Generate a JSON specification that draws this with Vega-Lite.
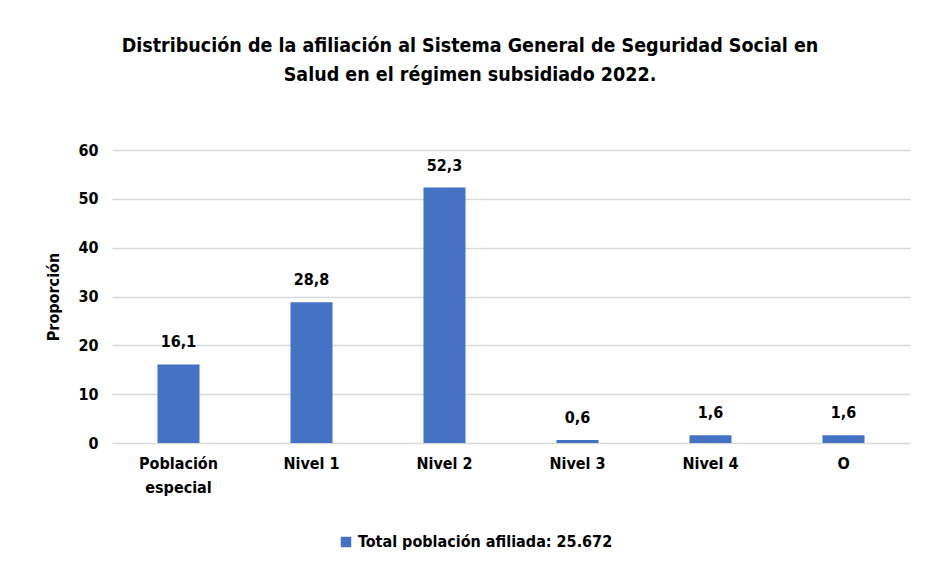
{
  "$schema": "https://vega.github.io/schema/vega-lite/v6.json",
  "autosize": {"type": "none"},
  "width": 798,
  "height": 293,
  "padding": {"left": 112, "top": 150, "right": 15, "bottom": 128},
  "background": "white",
  "config": {
    "font": "DejaVu Sans Condensed",
    "locale": {"number": {"decimal": ",", "thousands": ".", "grouping": [3], "currency": ["$", ""]}},
    "view": {"stroke": null},
    "axis": {"labelFont": "DejaVu Sans Condensed", "titleFont": "DejaVu Sans Condensed"}
  },
  "title": {
    "text": ["Distribución de la afiliación al Sistema General de Seguridad Social en", "Salud en el régimen subsidiado 2022."],
    "font": "DejaVu Sans Condensed",
    "fontSize": 19.5,
    "fontWeight": "bold",
    "color": "#000000",
    "lineHeight": 29,
    "anchor": "middle",
    "dx": -41,
    "offset": 57
  },
  "data": {
    "values": [
      {"categoria": "Población especial", "valor": 16.1, "serie": "Total población afiliada: 25.672"},
      {"categoria": "Nivel 1", "valor": 28.8, "serie": "Total población afiliada: 25.672"},
      {"categoria": "Nivel 2", "valor": 52.3, "serie": "Total población afiliada: 25.672"},
      {"categoria": "Nivel 3", "valor": 0.6, "serie": "Total población afiliada: 25.672"},
      {"categoria": "Nivel 4", "valor": 1.6, "serie": "Total población afiliada: 25.672"},
      {"categoria": "O", "valor": 1.6, "serie": "Total población afiliada: 25.672"}
    ]
  },
  "encoding": {
    "x": {
      "field": "categoria",
      "type": "nominal",
      "sort": null,
      "scale": {"paddingInner": 0.684, "paddingOuter": 0.342},
      "axis": {
        "title": null,
        "labelAngle": 0,
        "labelFontSize": 16,
        "labelFontWeight": "bold",
        "labelColor": "#000000",
        "labelPadding": 12,
        "labelLineHeight": 24,
        "labelExpr": "datum.value == 'Población especial' ? ['Población', 'especial'] : datum.label",
        "ticks": false,
        "domain": false
      }
    },
    "y": {
      "field": "valor",
      "type": "quantitative",
      "scale": {"domain": [0, 60]},
      "axis": {
        "title": "Proporción",
        "titleFontSize": 16,
        "titleFontWeight": "bold",
        "titleColor": "#000000",
        "titlePadding": 16,
        "values": [0, 10, 20, 30, 40, 50, 60],
        "labelFontSize": 16,
        "labelFontWeight": "bold",
        "labelColor": "#000000",
        "labelPadding": 14,
        "ticks": false,
        "domain": false,
        "gridColor": "#d9d9d9",
        "gridWidth": 1.5
      }
    }
  },
  "layer": [
    {
      "mark": {"type": "bar", "color": "#4472C4"},
      "encoding": {
        "color": {
          "field": "serie",
          "type": "nominal",
          "scale": {"range": ["#4472C4"]},
          "legend": {
            "title": null,
            "orient": "none",
            "legendX": 226,
            "legendY": 384,
            "symbolType": "square",
            "symbolSize": 110,
            "symbolStrokeWidth": 0,
            "labelFontSize": 16,
            "labelFontWeight": "bold",
            "labelColor": "#000000",
            "labelFont": "DejaVu Sans Condensed",
            "labelLimit": 0,
            "labelOffset": 4
          }
        }
      }
    },
    {
      "mark": {"type": "text", "baseline": "bottom", "dy": -14, "fontSize": 16, "fontWeight": "bold", "color": "#000000"},
      "encoding": {
        "text": {"field": "valor", "type": "quantitative", "format": ".1f"}
      }
    }
  ]
}
